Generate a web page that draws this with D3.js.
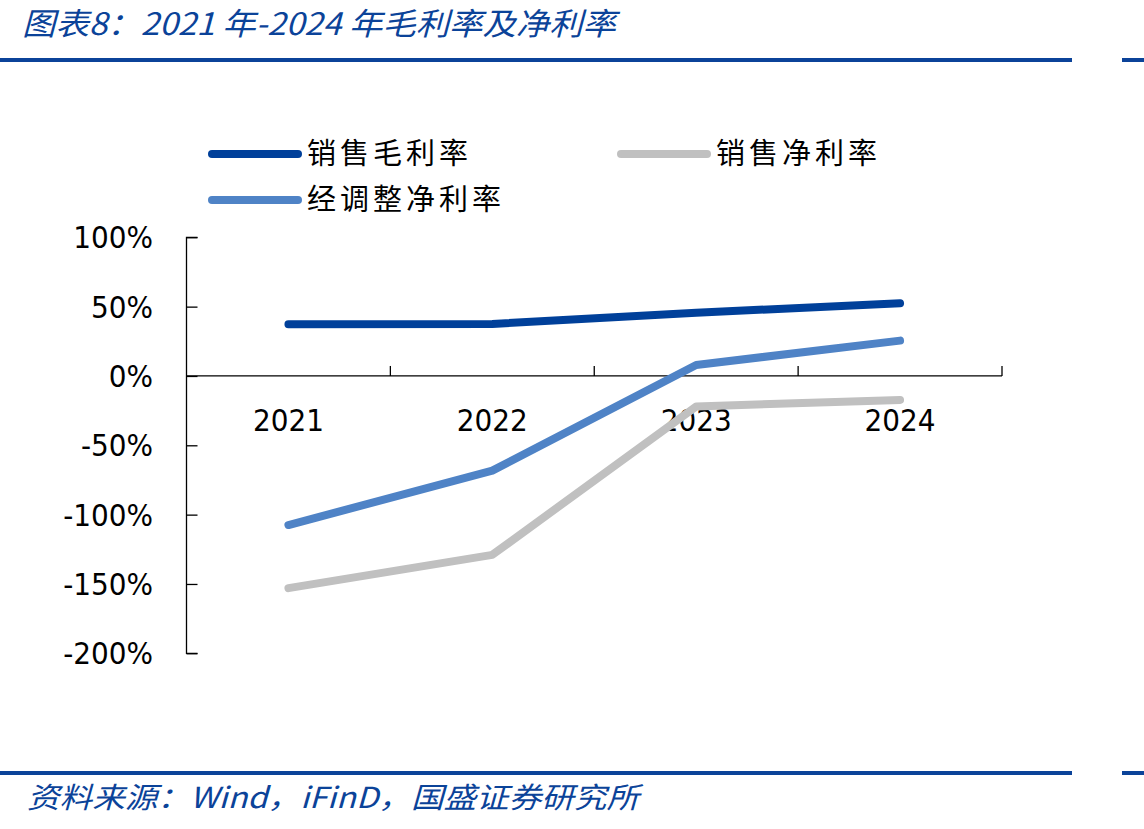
<!DOCTYPE html>
<html>
<head>
<meta charset="utf-8">
<script src="https://cdn.jsdelivr.net/npm/d3@7"></script>
<style>
  html, body { margin: 0; padding: 0; background: #fff; }
  svg { display: block; }
</style>
</head>
<body>
<svg id="chart" width="1144" height="829"></svg>
<script>
// ---- data ----
const years = ["2021", "2022", "2023", "2024"];
const grossMargin = [37.3, 37.5, 45.6, 52.4];      // 销售毛利率 (%)
const netMargin = [-153, -129, -22, -17.3];         // 销售净利率 (%)
const adjNetMargin = [-107.5, -68.3, 7.9, 25.5];    // 经调整净利率 (%)
const seriesNames = ["销售毛利率", "销售净利率", "经调整净利率"];
const yTicks = [100, 50, 0, -50, -100, -150, -200];
const titleText = "图表8：2021 年-2024 年毛利率及净利率";
const sourceText = "资料来源：Wind，iFinD，国盛证券研究所";

const colors = ["#00409a", "#c0c0c0", "#4f83c6"];
const series = [grossMargin, netMargin, adjNetMargin];

const svg = d3.select("#chart");
const brand = "#0b4399";
const cjk = "'Noto Sans CJK SC', 'Noto Sans', sans-serif";
const latin = "'DejaVu Sans Condensed', 'DejaVu Sans', Tahoma, sans-serif";

// ---- header / footer ----
svg.append("text")
  .attr("x", 22).attr("y", 35)
  .attr("font-family", cjk).attr("font-style", "italic")
  .attr("font-size", 31).attr("fill", brand)
  .attr("textLength", 594).attr("lengthAdjust", "spacingAndGlyphs")
  .text(titleText);

[60, 773].forEach(y => {
  svg.append("rect").attr("x", 0).attr("y", y - 2).attr("width", 1072).attr("height", 4).attr("fill", brand);
  svg.append("rect").attr("x", 1122).attr("y", y - 2).attr("width", 22).attr("height", 4).attr("fill", brand);
});

svg.append("text")
  .attr("x", 27).attr("y", 808)
  .attr("font-family", cjk).attr("font-style", "italic")
  .attr("font-size", 29).attr("fill", brand)
  .attr("textLength", 612).attr("lengthAdjust", "spacingAndGlyphs")
  .text(sourceText);

// ---- scales ----
const x = d3.scaleBand().domain(years).range([186.5, 1002]);
const y = d3.scaleLinear().domain([-200, 100]).range([653.3, 237.3]);

// y axis (ticks to the right)
const yAxis = svg.append("g").attr("transform", `translate(${x.range()[0]},0)`)
  .call(d3.axisRight(y).tickValues(yTicks).tickSize(11).tickFormat(() => ""));
yAxis.select(".domain").attr("stroke", "#000").attr("stroke-width", 1.3).attr("d", `M11,${y(100)}H0V${y(-200)}H11`);
yAxis.selectAll(".tick line").attr("stroke", "#000").attr("stroke-width", 1.3);

svg.append("g").selectAll("text").data(yTicks).join("text")
  .attr("x", 153).attr("y", d => y(d))
  .attr("dy", "0.36em")
  .attr("text-anchor", "end")
  .attr("font-family", latin).attr("font-size", 31).attr("fill", "#000")
  .text(d => d + "%");

// x axis at 0 (ticks upward at band boundaries)
const x0 = y(0);
const bounds = years.map(d => x(d)).concat([x.range()[1]]);
svg.append("line").attr("x1", x.range()[0]).attr("x2", x.range()[1])
  .attr("y1", x0).attr("y2", x0).attr("stroke", "#000").attr("stroke-width", 1.3);
svg.append("g").selectAll("line").data(bounds.slice(1)).join("line")
  .attr("x1", d => d).attr("x2", d => d)
  .attr("y1", x0).attr("y2", x0 - 10)
  .attr("stroke", "#000").attr("stroke-width", 1.3);

svg.append("g").selectAll("text").data(years).join("text")
  .attr("x", d => x(d) + x.bandwidth() / 2)
  .attr("y", x0 + 44)
  .attr("dy", "0.36em")
  .attr("text-anchor", "middle")
  .attr("font-family", latin).attr("font-size", 31).attr("fill", "#000")
  .text(d => d);

// ---- lines ----
const line = d3.line()
  .x((d, i) => x(years[i]) + x.bandwidth() / 2)
  .y(d => y(d));

// draw order: gray, light blue, dark blue
[1, 2, 0].forEach(k => {
  svg.append("path")
    .attr("d", line(series[k]))
    .attr("fill", "none")
    .attr("stroke", colors[k])
    .attr("stroke-width", 8)
    .attr("stroke-linecap", "round")
    .attr("stroke-linejoin", "round");
});

// ---- legend ----
const legendItems = [
  { name: seriesNames[0], color: colors[0], x: 212, y: 154 },
  { name: seriesNames[1], color: colors[1], x: 621, y: 154 },
  { name: seriesNames[2], color: colors[2], x: 212, y: 200 }
];
const lg = svg.append("g");
legendItems.forEach(it => {
  lg.append("line")
    .attr("x1", it.x).attr("x2", it.x + 86)
    .attr("y1", it.y).attr("y2", it.y)
    .attr("stroke", it.color).attr("stroke-width", 8)
    .attr("stroke-linecap", "round");
  lg.append("text")
    .attr("x", it.x + 95).attr("y", it.y)
    .attr("dy", "0.36em")
    .attr("font-family", cjk).attr("font-size", 29)
    .attr("letter-spacing", 4)
    .attr("fill", "#000")
    .text(it.name);
});
</script>
</body>
</html>
